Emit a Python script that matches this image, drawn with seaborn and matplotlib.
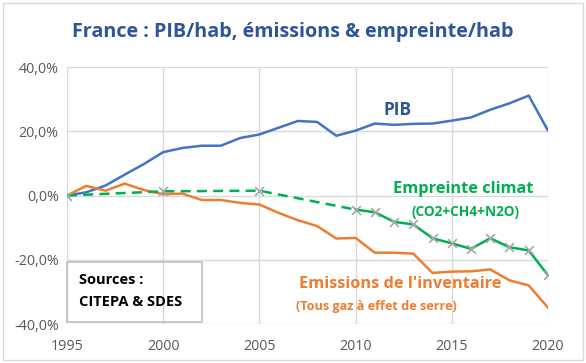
import numpy as np
import matplotlib.pyplot as plt
import matplotlib.patches as patches
import pandas as pd
import seaborn as sns

years = list(range(1995, 2021))

# PIB / habitant, % vs 1995
pib = [0.0, 1.0, 3.1, 6.5, 9.8, 13.5, 14.8, 15.5, 15.5, 17.9, 19.0, 21.1, 23.2,
       22.9, 18.6, 20.2, 22.4, 22.0, 22.3, 22.4, 23.3, 24.3, 26.7, 28.7, 31.1, 20.2]

# Emissions de l'inventaire / habitant
emissions = [0.0, 3.0, 1.5, 3.7, 1.7, 0.4, 0.6, -1.4, -1.4, -2.3, -2.8, -5.4, -7.7,
             -9.5, -13.4, -13.2, -17.8, -17.8, -18.1, -24.1, -23.7, -23.6, -23.0,
             -26.4, -28.0, -34.9]

# Empreinte climat / habitant (points connus)
empreinte_years = [1995, 2000, 2005, 2010, 2011, 2012, 2013, 2014, 2015, 2016,
                   2017, 2018, 2019, 2020]
empreinte = [0.0, 1.3, 1.5, -4.4, -5.2, -8.2, -9.0, -13.3, -14.9, -16.6, -13.3,
             -16.1, -17.1, -24.8]

BLUE = "#4472C4"
ORANGE = "#ED7D31"
GREEN = "#00B050"
TITLE = "#2F5597"

sns.set_style("white")
plt.rcParams['font.family'] = ['Open Sans', 'DejaVu Sans']

df = pd.DataFrame({"annee": years, "pib": pib, "emissions": emissions})
emp = pd.DataFrame({"annee": empreinte_years, "empreinte": empreinte})
emp_dash = emp[emp["annee"] <= 2010]
emp_solid = emp[emp["annee"] >= 2010]

fig = plt.figure(figsize=(5.86, 3.63), dpi=100)
ax = fig.add_axes([0.1143, 0.1074, 0.8208, 0.708])

sns.lineplot(data=df, x="annee", y="pib", ax=ax, color=BLUE, lw=1.8)
sns.lineplot(data=df, x="annee", y="emissions", ax=ax, color=ORANGE, lw=1.8)
sns.lineplot(data=emp_dash, x="annee", y="empreinte", ax=ax, color=GREEN, lw=1.8,
             linestyle=(0, (4, 2.5)))
sns.lineplot(data=emp_solid, x="annee", y="empreinte", ax=ax, color=GREEN, lw=1.8)
ax.scatter(emp["annee"], emp["empreinte"], marker="x", s=40, color="#A6A6A6",
           linewidths=1.2, zorder=5)

ax.set_xlim(1995, 2020)
ax.set_ylim(-40, 40)
ax.set_xticks([1995, 2000, 2005, 2010, 2015, 2020])
ax.set_yticks([-40, -20, 0, 20, 40])
ax.set_yticklabels([f"{v:.1f}%".replace(".", ",") for v in [-40, -20, 0, 20, 40]])
ax.set_xlabel("")
ax.set_ylabel("")
ax.grid(True, color="#D9D9D9", lw=1)
for s in ax.spines.values():
    s.set_visible(False)
ax.tick_params(axis="both", length=0, labelsize=10.3, labelcolor="#595959", pad=6)
ax.tick_params(axis="x", pad=11)

fig.text(0.5, 0.912, "France : PIB/hab, émissions & empreinte/hab", ha="center",
         va="center", fontsize=14.2, fontweight="bold", color=TITLE)

ax.text(2012.2, 26.5, "PIB", fontsize=12.5, fontweight="bold", color=TITLE,
        ha="center", va="center")
ax.text(2015.6, 2.0, "Empreinte climat", fontsize=11.8, fontweight="bold",
        color=GREEN, ha="center", va="center")
ax.text(2015.7, -5.2, "(CO2+CH4+N2O)", fontsize=9.8, fontweight="bold",
        color=GREEN, ha="center", va="center")
ax.text(2012.3, -27.7, "Emissions de l'inventaire", fontsize=11.8,
        fontweight="bold", color=ORANGE, ha="center", va="center")
ax.text(2011.1, -34.4, "(Tous gaz à effet de serre)", fontsize=9.1,
        fontweight="bold", color=ORANGE, ha="center", va="center")

box = patches.Rectangle((67 / 586, 1 - 322 / 363), 135 / 586, 60 / 363,
                        transform=fig.transFigure, fill=False, ec="#BFBFBF",
                        lw=1.2, zorder=6)
fig.patches.append(box)
fig.text(79 / 586, 1 - 280 / 363, "Sources :", fontsize=10.5, fontweight="bold",
         color="black", va="center")
fig.text(79 / 586, 1 - 302 / 363, "CITEPA & SDES", fontsize=10.5, fontweight="bold",
         color="black", va="center")

border = patches.Rectangle((3 / 586, 3 / 363), 580 / 586, 357 / 363,
                           transform=fig.transFigure, fill=False, ec="#D9D9D9",
                           lw=1)
fig.patches.append(border)

fig.savefig("out.png", dpi=100)
